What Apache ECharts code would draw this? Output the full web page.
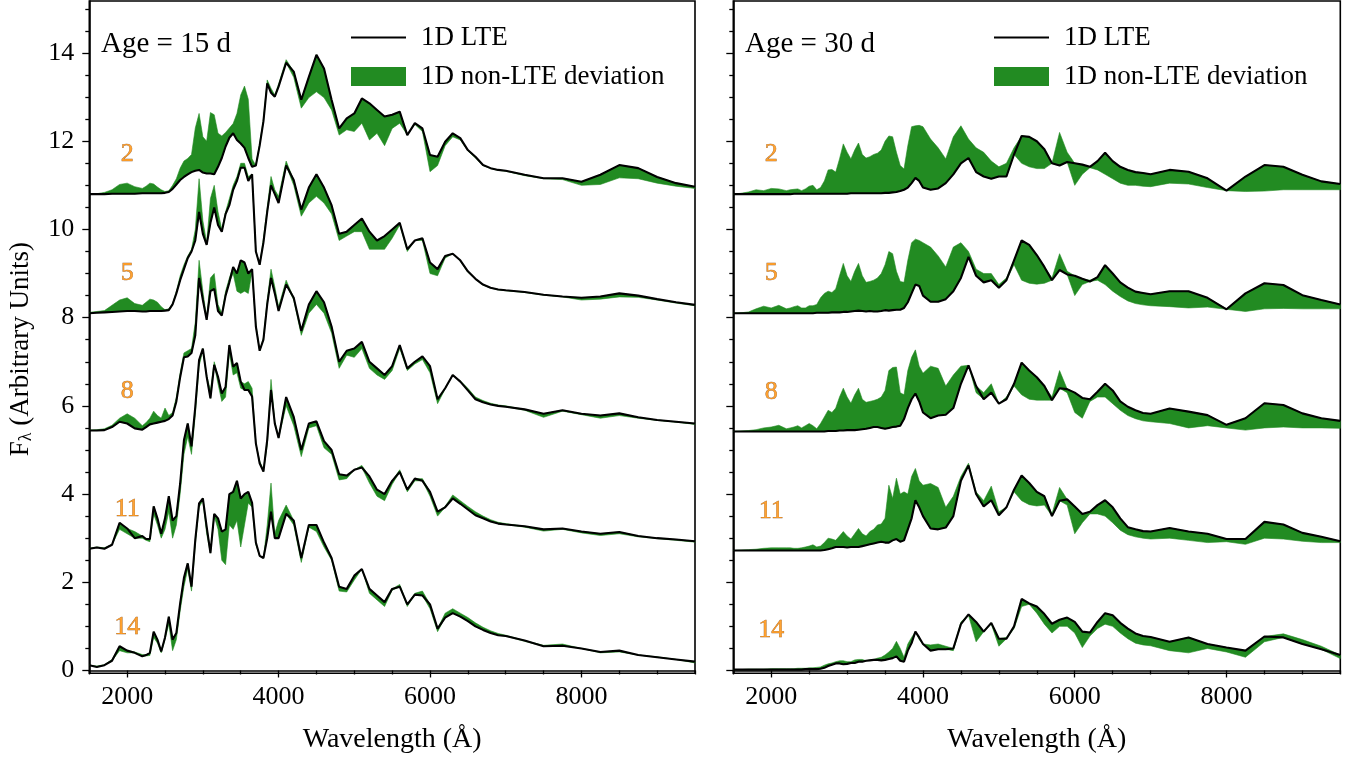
<!DOCTYPE html>
<html><head><meta charset="utf-8">
<script src="https://cdn.jsdelivr.net/npm/echarts@6/dist/echarts.min.js"></script>
<style>html,body{margin:0;padding:0;background:#fff}#c{width:1350px;height:759px}</style>
</head><body><div id="c"></div>
<script>
// Wavelength grid (Angstrom), shared by every spectrum
const WL = [1500,1600,1700,1800,1900,2000,2100,
 2200,2250,2300,2350,2400,2450,2500,2550,2600,2650,
 2700,2750,2800,2850,2900,2950,3000,3050,3100,3150,3200,3250,3300,3350,3400,3450,3500,3550,3600,3650,3700,3750,3800,3850,3900,3950,4000,
 4100,4200,4300,4400,4500,4600,4700,4800,4900,5000,5100,5200,5300,5400,5500,5600,5700,5800,5900,6000,6100,6200,6300,6400,6500,6600,6700,6800,6900,7000,
 7250,7500,7750,8000,8250,8500,8750,9000,9250,9500];

// ---- Age = 15 d : 1D LTE (L) and 1D non-LTE (N) ----
const L15_2 = [10.80,10.80,10.80,10.81,10.81,10.81,10.81,
 10.82,10.82,10.82,10.82,10.82,10.82,10.83,10.85,10.92,11.02,
 11.12,11.19,11.25,11.30,11.33,11.35,11.29,11.27,11.27,11.25,11.42,11.62,11.88,12.08,12.18,12.03,11.95,11.85,11.62,11.42,11.45,11.90,12.45,13.31,13.10,13.01,13.24,
 13.78,13.58,12.94,13.46,13.96,13.65,12.94,12.29,12.52,12.63,12.97,12.86,12.71,12.56,12.60,12.67,12.14,12.41,12.29,11.69,11.65,11.99,12.18,12.07,11.80,11.65,11.46,11.39,11.35,11.33,
 11.24,11.16,11.16,11.08,11.24,11.46,11.39,11.19,11.05,10.97];
const N15_2 = [10.80,10.81,10.84,10.90,11.02,11.05,10.97,
 10.93,10.98,11.05,11.03,10.96,10.90,10.86,10.88,11.00,11.15,
 11.39,11.55,11.61,11.70,12.30,12.63,12.10,12.00,12.65,12.60,12.18,12.12,12.20,12.30,12.40,12.63,13.05,13.25,12.95,11.60,11.45,11.95,12.50,13.39,13.20,13.05,13.30,
 13.85,13.45,12.75,12.99,13.12,12.99,12.71,12.14,12.26,12.22,12.41,12.03,12.18,11.90,12.29,12.41,12.14,12.38,12.22,11.31,11.45,11.90,12.10,12.03,11.78,11.62,11.45,11.38,11.34,11.32,
 11.22,11.15,11.13,11.00,11.02,11.17,11.15,11.05,10.98,10.93];
const L15_5 = [8.10,8.11,8.12,8.13,8.14,8.15,8.15,
 8.14,8.14,8.15,8.15,8.15,8.15,8.16,8.17,8.30,8.55,
 8.85,9.10,9.35,9.50,9.75,10.40,9.90,9.65,10.15,10.50,10.10,9.95,10.35,10.55,10.90,11.10,11.40,11.40,11.10,11.25,9.50,9.20,9.70,10.40,11.00,10.80,10.60,
 11.45,11.12,10.45,10.95,11.25,10.95,10.55,9.90,9.95,10.10,10.25,9.95,9.75,9.85,10.00,10.15,9.55,9.75,9.80,9.25,9.10,9.40,9.45,9.30,9.05,8.88,8.75,8.68,8.64,8.62,
 8.58,8.52,8.48,8.45,8.48,8.55,8.50,8.42,8.35,8.29];
const N15_5 = [8.12,8.14,8.16,8.28,8.40,8.45,8.32,
 8.28,8.35,8.42,8.40,8.35,8.25,8.18,8.20,8.32,8.60,
 8.95,9.20,9.40,9.55,10.00,11.15,10.20,9.70,10.70,11.00,10.40,10.00,10.40,10.70,11.00,11.20,11.50,11.50,11.20,11.25,9.50,9.20,9.80,10.50,11.20,10.90,10.75,
 11.55,11.00,10.30,10.60,10.75,10.60,10.35,9.75,9.85,9.95,9.95,9.55,9.55,9.55,9.80,10.10,9.50,9.75,9.75,9.00,8.95,9.35,9.45,9.28,9.03,8.87,8.74,8.67,8.63,8.61,
 8.57,8.51,8.47,8.40,8.42,8.47,8.46,8.40,8.33,8.27];
const L15_8 = [5.44,5.44,5.45,5.52,5.64,5.60,5.49,
 5.46,5.52,5.58,5.60,5.62,5.64,5.66,5.70,5.78,6.10,
 6.65,7.10,7.12,7.20,7.60,8.90,8.40,7.95,8.60,8.65,8.15,8.05,8.50,8.80,9.15,9.00,9.30,9.25,9.00,9.10,7.80,7.25,7.50,8.30,8.90,8.55,8.15,
 8.75,8.45,7.70,8.30,8.60,8.35,7.80,7.00,7.25,7.30,7.45,7.00,6.85,6.70,6.90,7.38,6.85,7.00,7.12,6.90,6.15,6.40,6.70,6.55,6.35,6.15,6.08,6.03,6.00,5.98,
 5.92,5.82,5.90,5.82,5.78,5.83,5.74,5.68,5.64,5.60];
const N15_8 = [5.45,5.46,5.48,5.56,5.72,5.82,5.72,
 5.55,5.62,5.72,5.88,5.78,5.72,5.95,5.78,5.85,6.20,
 6.75,7.20,7.25,7.30,7.90,9.30,8.60,8.00,8.90,9.00,8.30,8.10,8.60,8.90,9.00,8.60,8.55,8.60,8.55,9.05,7.85,7.25,7.55,8.40,9.10,8.70,8.25,
 8.85,8.40,7.60,8.10,8.30,8.10,7.65,6.85,7.15,7.10,7.30,6.85,6.70,6.60,6.80,7.30,6.80,6.95,7.05,6.75,6.05,6.38,6.70,6.57,6.40,6.20,6.12,6.06,6.02,6.00,
 5.90,5.74,5.88,5.80,5.72,5.78,5.72,5.67,5.63,5.58];
const L15_11 = [2.76,2.79,2.76,2.85,3.35,3.22,3.00,
 3.05,2.98,2.98,3.72,3.45,3.10,3.45,3.95,3.40,3.50,
 4.24,5.22,5.60,5.08,5.98,7.04,7.30,6.66,6.17,6.93,6.66,6.28,6.43,7.38,6.89,6.97,6.55,6.36,6.36,6.21,5.15,4.70,4.51,5.23,6.36,5.60,5.27,
 6.20,5.75,5.00,5.60,5.65,5.20,5.00,4.45,4.42,4.55,4.60,4.40,4.10,4.00,4.30,4.50,4.10,4.35,4.30,4.05,3.60,3.70,3.90,3.78,3.65,3.52,3.45,3.38,3.33,3.31,
 3.27,3.20,3.22,3.15,3.10,3.14,3.05,3.00,2.97,2.93];
const N15_11 = [2.77,2.80,2.78,2.86,3.20,3.10,3.15,
 3.00,2.95,2.92,3.55,3.30,3.00,3.20,3.60,3.00,3.30,
 4.00,4.90,5.30,4.90,5.80,6.90,7.25,6.70,6.35,7.00,6.50,6.10,6.20,7.20,6.70,6.75,6.40,6.50,6.55,6.40,5.15,4.75,4.55,5.10,6.60,5.65,5.30,
 6.00,5.55,4.85,5.50,5.55,5.05,4.90,4.32,4.35,4.55,4.65,4.25,3.95,3.85,4.22,4.55,4.05,4.30,4.35,3.95,3.50,3.72,3.98,3.85,3.72,3.60,3.50,3.42,3.36,3.33,
 3.25,3.16,3.20,3.12,3.06,3.10,3.03,2.99,2.95,2.91];
const L15_14 = [0.12,0.08,0.12,0.22,0.55,0.45,0.40,
 0.32,0.35,0.40,0.88,0.70,0.43,0.75,1.22,0.70,0.85,
 1.52,2.10,2.43,1.90,2.96,3.79,3.90,3.26,2.66,3.55,3.45,3.15,3.20,4.00,4.05,4.30,3.90,4.00,4.05,3.80,2.90,2.60,2.55,3.00,3.60,3.00,3.00,
 3.55,3.40,2.55,3.30,3.30,2.90,2.55,1.90,1.85,2.15,2.30,1.85,1.70,1.55,1.85,1.90,1.50,1.72,1.70,1.50,0.95,1.20,1.30,1.22,1.12,1.00,0.92,0.85,0.80,0.78,
 0.68,0.55,0.56,0.50,0.42,0.45,0.35,0.30,0.25,0.20];
const N15_14 = [0.12,0.10,0.13,0.25,0.45,0.40,0.42,
 0.36,0.33,0.34,0.75,0.62,0.40,0.70,1.05,0.45,0.70,
 1.35,1.90,2.30,1.80,2.85,3.70,3.85,3.10,2.70,3.50,3.20,2.50,2.40,3.30,3.20,3.40,2.80,3.30,3.80,3.70,2.85,2.60,2.55,3.30,4.25,3.10,3.40,
 3.75,3.30,2.45,3.25,3.15,2.80,2.50,1.80,1.78,2.05,2.30,1.75,1.60,1.45,1.82,1.95,1.45,1.75,1.80,1.40,0.88,1.30,1.40,1.30,1.20,1.08,0.98,0.90,0.84,0.80,
 0.66,0.57,0.60,0.50,0.40,0.42,0.35,0.31,0.25,0.17];

// ---- Age = 30 d ----
const L30_2 = [10.80,10.80,10.80,10.80,10.80,10.80,10.80,
 10.80,10.80,10.81,10.81,10.81,10.81,10.81,10.81,10.81,10.81,
 10.81,10.81,10.81,10.81,10.81,10.81,10.81,10.82,10.82,10.82,10.82,10.82,10.82,10.82,10.82,10.82,10.83,10.83,10.84,10.85,10.87,10.90,10.95,11.05,11.17,11.10,10.95,
 10.90,10.93,11.05,11.25,11.50,11.62,11.30,11.20,11.15,11.20,11.20,11.70,12.12,12.10,12.00,11.82,11.50,11.45,11.53,11.50,11.47,11.42,11.55,11.74,11.55,11.42,11.35,11.30,11.28,11.25,
 11.35,11.31,11.16,10.88,11.20,11.46,11.42,11.24,11.09,11.03];
const N30_2 = [10.80,10.82,10.85,10.90,10.88,10.93,10.92,
 10.88,10.90,10.91,10.92,10.88,10.92,10.98,11.00,10.90,10.95,
 11.10,11.35,11.36,11.30,11.60,11.94,11.75,11.60,11.80,11.96,11.70,11.62,11.65,11.70,11.73,11.80,12.00,12.12,12.10,11.75,11.45,11.37,11.90,12.33,12.35,12.36,12.33,
 12.05,11.85,11.60,12.10,12.35,12.05,11.85,11.75,11.55,11.42,11.50,11.85,11.50,11.42,11.38,11.38,11.50,12.20,11.75,11.00,11.25,11.40,11.35,11.25,11.15,11.05,11.00,11.00,10.98,10.97,
 11.05,11.03,10.95,10.88,10.86,10.87,10.90,10.90,10.90,10.90];
const L30_5 = [8.10,8.10,8.10,8.10,8.10,8.10,8.10,
 8.10,8.10,8.10,8.10,8.10,8.10,8.10,8.10,8.11,8.11,
 8.11,8.11,8.12,8.12,8.12,8.13,8.13,8.14,8.15,8.16,8.15,8.14,8.15,8.14,8.14,8.15,8.17,8.16,8.17,8.18,8.18,8.22,8.35,8.55,8.75,8.72,8.50,
 8.36,8.36,8.42,8.60,8.90,9.38,8.95,8.80,8.85,8.68,8.85,9.30,9.75,9.65,9.42,9.15,8.85,9.08,8.98,8.95,8.88,8.82,8.92,9.19,9.00,8.80,8.68,8.59,8.56,8.53,
 8.60,8.60,8.45,8.19,8.55,8.78,8.74,8.51,8.40,8.30];
const N30_5 = [8.10,8.11,8.13,8.20,8.26,8.22,8.28,
 8.20,8.22,8.25,8.27,8.22,8.22,8.27,8.27,8.30,8.45,
 8.55,8.60,8.57,8.65,8.95,9.23,8.95,8.82,9.05,9.23,8.95,8.80,8.82,8.85,8.90,9.00,9.20,9.50,9.45,9.05,8.82,8.80,9.30,9.70,9.78,9.75,9.70,
 9.60,9.40,9.15,9.60,9.70,9.50,9.10,9.00,9.00,8.75,8.90,9.20,8.85,8.78,8.76,8.78,8.90,9.45,9.05,8.50,8.75,8.85,8.85,8.75,8.60,8.48,8.38,8.32,8.29,8.27,
 8.25,8.22,8.24,8.20,8.14,8.20,8.21,8.20,8.20,8.20];
const L30_8 = [5.42,5.42,5.42,5.42,5.42,5.42,5.42,
 5.42,5.42,5.42,5.42,5.42,5.42,5.42,5.42,5.42,5.42,
 5.42,5.43,5.43,5.43,5.44,5.44,5.45,5.45,5.45,5.46,5.47,5.48,5.50,5.52,5.52,5.50,5.48,5.50,5.52,5.53,5.55,5.70,5.95,6.15,6.28,6.10,5.85,
 5.72,5.78,5.80,5.95,6.50,6.92,6.45,6.15,6.30,6.05,6.15,6.50,6.98,6.80,6.65,6.45,6.13,6.40,6.38,6.30,6.18,6.15,6.32,6.50,6.35,6.10,5.98,5.90,5.84,5.82,
 5.94,5.87,5.79,5.57,5.72,6.06,6.02,5.83,5.72,5.66];
const N30_8 = [5.42,5.43,5.44,5.46,5.50,5.52,5.56,
 5.48,5.50,5.52,5.55,5.50,5.55,5.60,5.55,5.48,5.60,
 5.75,5.90,5.85,5.95,6.20,6.40,6.20,6.06,6.25,6.40,6.15,6.08,6.10,6.12,6.15,6.20,6.35,6.80,6.87,6.88,6.30,6.25,6.80,7.10,7.27,6.90,6.74,
 6.90,6.85,6.45,6.70,6.90,6.92,6.30,6.30,6.50,6.05,6.20,6.45,6.25,6.15,6.13,6.13,6.20,6.80,6.30,5.85,5.72,6.10,6.20,6.20,6.05,5.90,5.78,5.71,5.66,5.64,
 5.60,5.50,5.55,5.50,5.45,5.50,5.52,5.50,5.50,5.49];
const L30_11 = [2.72,2.72,2.72,2.72,2.72,2.72,2.72,
 2.72,2.72,2.72,2.72,2.72,2.72,2.72,2.72,2.72,2.72,
 2.73,2.75,2.77,2.80,2.80,2.80,2.79,2.80,2.80,2.80,2.82,2.84,2.86,2.88,2.90,2.92,2.90,2.90,2.95,2.98,2.92,2.95,3.20,3.45,3.86,3.70,3.50,
 3.22,3.20,3.24,3.50,4.30,4.65,4.00,3.72,3.86,3.52,3.70,4.10,4.42,4.25,4.05,3.95,3.50,3.85,3.88,3.72,3.55,3.60,3.75,3.86,3.70,3.45,3.25,3.20,3.16,3.15,
 3.23,3.15,3.10,2.98,2.98,3.37,3.31,3.12,3.03,2.93];
const N30_11 = [2.72,2.73,2.74,2.75,2.77,2.78,2.78,
 2.78,2.78,2.77,2.77,2.78,2.80,2.82,2.85,2.80,2.82,
 2.90,3.00,2.98,2.95,3.05,3.15,3.05,2.98,3.10,3.22,3.10,3.05,3.15,3.20,3.30,3.32,3.45,4.20,3.90,4.36,4.00,4.05,4.00,4.40,4.58,4.30,4.20,
 4.24,4.15,3.70,3.95,4.40,4.70,4.05,3.85,4.18,3.60,3.70,4.05,3.85,3.76,3.73,3.75,3.55,4.15,3.75,3.10,3.35,3.55,3.55,3.50,3.35,3.18,3.08,3.03,3.00,2.98,
 3.00,2.95,2.90,2.92,2.86,3.00,2.98,2.93,2.90,2.90];
const L30_14 = [0.02,0.02,0.02,0.02,0.02,0.02,0.02,
 0.02,0.02,0.02,0.02,0.02,0.03,0.03,0.03,0.03,0.04,
 0.06,0.10,0.13,0.16,0.16,0.14,0.15,0.17,0.17,0.20,0.20,0.22,0.23,0.24,0.24,0.23,0.24,0.26,0.28,0.32,0.22,0.20,0.45,0.62,0.88,0.75,0.60,
 0.45,0.48,0.48,0.50,1.05,1.27,1.10,0.88,1.08,0.72,0.72,1.00,1.62,1.52,1.45,1.28,1.06,1.15,1.20,1.10,0.88,0.86,1.10,1.30,1.25,1.08,0.95,0.84,0.78,0.76,
 0.65,0.75,0.60,0.52,0.45,0.77,0.75,0.60,0.48,0.35];
const N30_14 = [0.02,0.02,0.03,0.03,0.03,0.04,0.04,
 0.04,0.04,0.04,0.05,0.05,0.05,0.06,0.06,0.07,0.08,
 0.12,0.15,0.17,0.20,0.22,0.22,0.20,0.20,0.24,0.25,0.25,0.22,0.24,0.25,0.28,0.30,0.35,0.42,0.50,0.66,0.50,0.30,0.60,0.75,0.88,0.70,0.60,
 0.58,0.60,0.55,0.45,1.10,1.25,0.65,0.90,1.05,0.55,0.75,0.95,1.45,1.50,1.30,1.05,0.85,1.00,1.00,0.85,0.52,0.78,0.95,1.05,1.00,0.85,0.72,0.62,0.58,0.56,
 0.45,0.40,0.50,0.42,0.30,0.65,0.83,0.70,0.55,0.27];

const MODEL_LABELS = ['2','5','8','11','14'];
const AGE_LABELS = ['Age = 15 d','Age = 30 d'];
const X_TICKS = [2000,4000,6000,8000];
const X_MINOR = [1500,2500,3000,3500,4500,5000,5500,6500,7000,7500,8500,9000,9500];
const Y_TICKS = [0,2,4,6,8,10,12,14];
const Y_MINOR = [0.5,1,1.5,2.5,3,3.5,4.5,5,5.5,6.5,7,7.5,8.5,9,9.5,10.5,11,11.5,12.5,13,13.5,14.5,15];

const PANELS = [
  {lte:[L15_2,L15_5,L15_8,L15_11,L15_14], nlte:[N15_2,N15_5,N15_8,N15_11,N15_14]},
  {lte:[L30_2,L30_5,L30_8,L30_11,L30_14], nlte:[N30_2,N30_5,N30_8,N30_11,N30_14]}
];

const FONT = 'Liberation Serif';
const GREEN = '#228B22';
const ORANGE = '#ff8c00';
const GRID_POS = [
  {left:89.3, top:1, width:605.7, height:672.3},
  {left:733.3, top:1, width:607, height:672.3}
];
const LEGEND_LEFT = [350, 993];
const AGE_LEFT = [101, 745];

const chart = echarts.init(document.getElementById('c'), null, {renderer:'canvas', width:1350, height:759});
const grids=[], xAxes=[], yAxes=[], series=[], legends=[], titles=[];
const tickStyle = {color:'#000', width:1.3};
const numFmt = (v)=>String(v);

PANELS.forEach((P,p)=>{
  grids.push(Object.assign({show:true, borderColor:'#000', borderWidth:1.6, containLabel:false}, GRID_POS[p]));
  xAxes.push({type:'value', gridIndex:p, min:1500, max:9500, position:'bottom',
    axisLine:{show:true, lineStyle:{color:'#000', width:1.6}},
    axisTick:{show:true, customValues:X_TICKS, length:7, lineStyle:tickStyle},
    axisLabel:{show:true, customValues:X_TICKS, formatter:numFmt, fontFamily:FONT, fontSize:26, color:'#000', margin:11},
    splitLine:{show:false},
    name:'Wavelength (Å)', nameLocation:'middle', nameGap:52,
    nameTextStyle:{fontFamily:FONT, fontSize:28, color:'#000'}});
  xAxes.push({type:'value', gridIndex:p, min:1500, max:9500, position:'bottom',
    axisLine:{show:false}, axisTick:{show:true, customValues:X_MINOR, length:4, lineStyle:tickStyle},
    axisLabel:{show:false}, splitLine:{show:false}});
  const yMain = {type:'value', gridIndex:p, min:-0.064, max:15.18, position:'left',
    axisLine:{show:true, lineStyle:{color:'#000', width:1.6}},
    axisTick:{show:true, customValues:Y_TICKS, length:7, lineStyle:tickStyle},
    axisLabel:{show:p===0, customValues:Y_TICKS, formatter:numFmt, fontFamily:FONT, fontSize:26, color:'#000', margin:15},
    splitLine:{show:false}};
  if (p===0) {
    yMain.name = 'F{s|λ} (Arbitrary Units)';
    yMain.nameLocation = 'middle';
    yMain.nameGap = 54;
    yMain.nameRotate = 90;
    yMain.nameTextStyle = {fontFamily:FONT, fontSize:27, color:'#000', padding:[0,24,0,0],
      rich:{s:{fontFamily:FONT, fontSize:18, color:'#000', verticalAlign:'bottom', padding:[10,0,0,0]}}};
  }
  yAxes.push(yMain);
  yAxes.push({type:'value', gridIndex:p, min:-0.064, max:15.18, position:'left',
    axisLine:{show:false}, axisTick:{show:true, customValues:Y_MINOR, length:4, lineStyle:tickStyle},
    axisLabel:{show:false}, splitLine:{show:false}});

  // green band between LTE and non-LTE spectra (polygon through the axis scales)
  P.lte.forEach((L,k)=>{
    const N = P.nlte[k];
    series.push({type:'custom', name:'1D non-LTE deviation', coordinateSystem:'cartesian2d',
      xAxisIndex:2*p, yAxisIndex:2*p, silent:true, z:2, clip:true,
      itemStyle:{color:GREEN},
      data:[[WL[0], L[0]]],
      renderItem:(params, api)=>{
        const up=[], lo=[];
        for (let i=0;i<WL.length;i++){
          up.push(api.coord([WL[i], Math.max(L[i],N[i])]));
          lo.push(api.coord([WL[i], Math.min(L[i],N[i])]));
        }
        return {type:'polygon', shape:{points:up.concat(lo.reverse())},
          style:{fill:GREEN, stroke:GREEN, lineWidth:0.6}};
      }});
  });
  P.lte.forEach((L,k)=>{
    series.push({type:'line', name:'1D LTE', xAxisIndex:2*p, yAxisIndex:2*p,
      data: WL.map((x,i)=>[x, L[i]]), symbol:'none', silent:true, color:'#000',
      itemStyle:{color:'#000'}, lineStyle:{color:'#000', width:2.1}, z:3});
  });
  series.push({type:'scatter', name:'labels'+p, xAxisIndex:2*p, yAxisIndex:2*p, silent:true, z:5,
    symbol:'circle', symbolSize:0.1, itemStyle:{color:'rgba(0,0,0,0)'},
    data: P.lte.map((L,k)=>[2000, Math.min(L[0],L[1],L[2]) + 0.9, MODEL_LABELS[k]]),
    label:{show:true, position:'inside', formatter:(d)=>'{t|'+d.value[2]+'}',
      rich:{t:{fontFamily:FONT, fontSize:26, fontWeight:'normal', color:ORANGE, textBorderColor:'#6e3400', textBorderWidth:0.5}}}});

  legends.push({left:LEGEND_LEFT[p], top:24, orient:'vertical', itemWidth:55, itemHeight:19, itemGap:12,
    padding:0, selectedMode:false,
    textStyle:{fontFamily:FONT, fontSize:27, color:'#000', padding:[0,0,0,10]},
    data:[{name:'1D LTE', itemStyle:{opacity:0}, lineStyle:{color:'#000', width:2}},
          {name:'1D non-LTE deviation', icon:'rect', itemStyle:{color:GREEN, opacity:1, borderWidth:0}}]});
  titles.push({text:AGE_LABELS[p], left:AGE_LEFT[p], top:30, padding:0,
    textStyle:{fontFamily:FONT, fontSize:29, fontWeight:'normal', color:'#000'}});
});

chart.setOption({
  animation:false, backgroundColor:'#fff',
  textStyle:{fontFamily:FONT},
  title:titles, legend:legends, grid:grids, xAxis:xAxes, yAxis:yAxes, series:series
});
</script>
</body></html>
